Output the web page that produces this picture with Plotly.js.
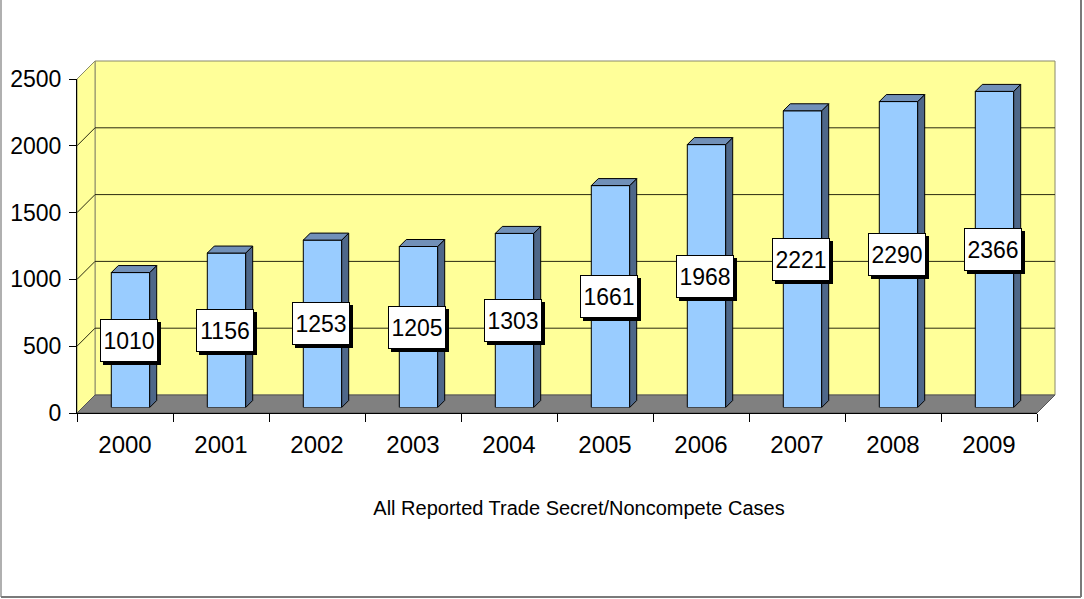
<!DOCTYPE html>
<html>
<head>
<meta charset="utf-8">
<script src="https://cdn.plot.ly/plotly-3.0.1.min.js"></script>
<style>
  html, body { margin: 0; padding: 0; background: #fff; }
  #chart { width: 1084px; height: 599px; }
</style>
</head>
<body>
<div id="chart"></div>
<script>
// data
var years = ['2000', '2001', '2002', '2003', '2004', '2005', '2006', '2007', '2008', '2009'];
var cases = [1010, 1156, 1253, 1205, 1303, 1661, 1968, 2221, 2290, 2366];
var yTicks = [0, 500, 1000, 1500, 2000, 2500];
var chartTitle = 'All Reported Trade Secret/Noncompete Cases';

// page geometry (pixels)
var W = 1084, H = 599;
var L = 77, T = 60, PW = 980, PH = 353;   // whole plotting box incl. 3d depth
var FW = 960, FH = 334;                   // front plane size
var DEPTH = 18;                           // depth of walls / floor
var BARZ = 5.5;                           // where the bars stand in the depth
var BARD = 7;                             // depth of each bar
var YMAX = 2500;
var BARW = 0.4;

var font = 'Liberation Sans, Arial, sans-serif';
var barFront = '#99ccff', barSide = '#4e6789', barTop = '#7190b8';

// paper helpers
function fx(px) { return (px - L) / PW; }
function fy(py) { return (T + PH - py) / PH; }
var fx1 = FW / PW, fy1 = FH / PH, dx = DEPTH / PW, dy = DEPTH / PH;

// bar depth in data units of the bar plane
var dxu = BARD / (FW / years.length);
var dyu = BARD * YMAX / FH;

var idx = years.map(function (y, i) { return i; });

// side and top faces of the bars
var sideX = [], sideY = [], topX = [], topY = [];
for (var i = 0; i < cases.length; i++) {
    var r = i + BARW / 2, l = i - BARW / 2, v = cases[i];
    sideX.push(r, r + dxu, r + dxu, r, r, null);
    sideY.push(0, dyu, v + dyu, v, 0, null);
    topX.push(l, l + dxu, r + dxu, r, l, null);
    topY.push(v, v + dyu, v + dyu, v, v, null);
}

var traces = [
    {   // keeps the front category axis
        type: 'scatter', mode: 'none', x: years, y: cases.map(function () { return 0; }),
        xaxis: 'x', yaxis: 'y', showlegend: false, hoverinfo: 'skip'
    },
    {
        type: 'bar', x: idx, y: cases, width: BARW,
        xaxis: 'x3', yaxis: 'y3',
        marker: { color: barFront, line: { color: '#000', width: 1 } },
        showlegend: false, hoverinfo: 'skip'
    },
    {
        type: 'scatter', mode: 'lines', x: sideX, y: sideY, fill: 'toself',
        fillcolor: barSide, line: { color: '#000', width: 1 },
        xaxis: 'x3', yaxis: 'y3', showlegend: false, hoverinfo: 'skip'
    },
    {
        type: 'scatter', mode: 'lines', x: topX, y: topY, fill: 'toself',
        fillcolor: barTop, line: { color: '#000', width: 1 },
        xaxis: 'x3', yaxis: 'y3', showlegend: false, hoverinfo: 'skip'
    }
];

var shapes = [];
// back wall
shapes.push({ type: 'rect', xref: 'paper', yref: 'paper', x0: dx, x1: fx1 + dx, y0: dy, y1: fy1 + dy,
    fillcolor: '#ffff99', line: { color: '#8a8a6a', width: 1 }, layer: 'below' });
// left wall
shapes.push({ type: 'path', xref: 'paper', yref: 'paper',
    path: 'M0,0 L0,' + fy1 + ' L' + dx + ',' + (fy1 + dy) + ' L' + dx + ',' + dy + ' Z',
    fillcolor: '#ffff99', line: { color: '#8a8a6a', width: 1 }, layer: 'below' });
// floor
shapes.push({ type: 'path', xref: 'paper', yref: 'paper',
    path: 'M0,0 L' + fx1 + ',0 L' + (fx1 + dx) + ',' + dy + ' L' + dx + ',' + dy + ' Z',
    fillcolor: '#808080', line: { color: '#555', width: 1 }, layer: 'below' });
// grid on the back wall and on the left wall
yTicks.forEach(function (v) {
    var yy = v / YMAX * fy1;
    if (v > 0 && v < YMAX) {
        shapes.push({ type: 'line', xref: 'paper', yref: 'paper', x0: dx, x1: fx1 + dx, y0: yy + dy, y1: yy + dy,
            line: { color: '#2a2a10', width: 1 }, layer: 'below' });
    }
    if (v > 0) {
        shapes.push({ type: 'line', xref: 'paper', yref: 'paper', x0: 0, x1: dx, y0: yy, y1: yy + dy,
            line: { color: v === YMAX ? '#8a8a6a' : '#2a2a10', width: 1 }, layer: 'below' });
    }
});
// frame round the picture
shapes.push({ type: 'line', xref: 'paper', yref: 'paper', x0: fx(1), x1: fx(1), y0: fy(597), y1: fy(-5),
    line: { color: '#b0b0b0', width: 2 } });
shapes.push({ type: 'line', xref: 'paper', yref: 'paper', x0: fx(1081), x1: fx(1081), y0: fy(597), y1: fy(-5),
    line: { color: '#7a7a7a', width: 2 } });
shapes.push({ type: 'line', xref: 'paper', yref: 'paper', x0: fx(1), x1: fx(1081), y0: fy(597), y1: fy(597),
    line: { color: '#7a7a7a', width: 2 } });

// value labels with a drop shadow
var annotations = [];
cases.forEach(function (v, i) {
    annotations.push({ xref: 'x3', yref: 'y3', x: i, y: v / 2, text: '&nbsp;', showarrow: false,
        font: { family: font, size: 22, color: '#000' }, bgcolor: '#000', bordercolor: '#000',
        borderwidth: 1, borderpad: 1, width: 54, height: 39, xshift: 1, yshift: -3 });
    annotations.push({ xref: 'x3', yref: 'y3', x: i, y: v / 2, text: String(v), showarrow: false,
        font: { family: font, size: 23, color: '#000' }, bgcolor: '#fff', bordercolor: '#000',
        borderwidth: 1, borderpad: 1, width: 54, height: 39, xshift: -2 });
});

var layout = {
    width: W, height: H,
    margin: { l: L, r: W - L - PW, t: T, b: H - T - PH, pad: 0 },
    paper_bgcolor: '#fff', plot_bgcolor: 'rgba(0,0,0,0)',
    showlegend: false,
    font: { family: font, color: '#000' },
    title: { text: chartTitle, font: { family: font, size: 20, color: '#000' },
        xref: 'container', yref: 'container', x: 579 / W, xanchor: 'center', y: 1 - 508 / H, yanchor: 'middle' },
    xaxis: {
        type: 'category', domain: [0, fx1], range: [-0.5, years.length - 0.5],
        showline: true, linecolor: '#000', linewidth: 1,
        ticks: 'outside', tickson: 'boundaries', ticklen: 8, tickcolor: '#000',
        tickfont: { family: font, size: 24, color: '#000' }, ticklabelstandoff: 10,
        showgrid: false, zeroline: false, fixedrange: true
    },
    yaxis: {
        domain: [0, fy1], range: [0, YMAX], tickvals: yTicks,
        showline: true, linecolor: '#000', linewidth: 1,
        ticks: 'outside', ticklen: 7, tickcolor: '#000',
        tickfont: { family: font, size: 23, color: '#000' }, ticklabelstandoff: 3,
        showgrid: false, zeroline: false, fixedrange: true
    },
    xaxis3: {
        domain: [BARZ / PW, (BARZ + FW) / PW], range: [-0.5, years.length - 0.5], anchor: 'y3',
        visible: false, fixedrange: true
    },
    yaxis3: {
        domain: [BARZ / PH, (BARZ + FH) / PH], range: [0, YMAX], anchor: 'x3',
        visible: false, fixedrange: true
    },
    shapes: shapes,
    annotations: annotations
};

Plotly.newPlot('chart', traces, layout, { displayModeBar: false, staticPlot: true });
</script>
</body>
</html>
